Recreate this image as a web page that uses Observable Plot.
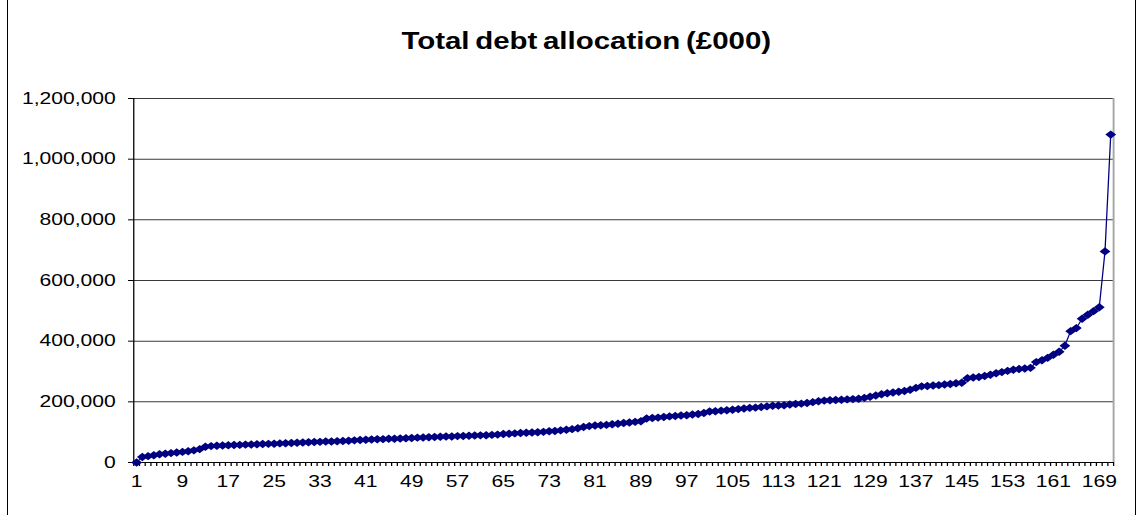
<!DOCTYPE html>
<html>
<head>
<meta charset="utf-8">
<script src="https://cdn.jsdelivr.net/npm/d3@7"></script>
<script src="https://cdn.jsdelivr.net/npm/@observablehq/plot@0.6"></script>
<style>
  html, body { margin: 0; padding: 0; background: #fff; }
  #frame { position: absolute; left: 0; top: 0; width: 1139px; height: 515px; overflow: hidden; background: #fff; }
  #border { position: absolute; left: 7px; top: -2px; width: 1129px; height: 519px; border: 1px solid #000; box-sizing: border-box; }
  #wrap { position: absolute; left: 0; top: 0; width: 890px; height: 515px; transform: scaleX(1.28); transform-origin: 0 0;
          font-family: "Liberation Sans", Arial, sans-serif; }
  #title { position: absolute; top: 30px; left: 458px; transform: translateX(-50%); white-space: nowrap;
           font-family: "Liberation Sans", Arial, sans-serif;
           font-size: 23px; line-height: 23px; font-weight: bold; color: #000; word-spacing: -2px; }
  #chart { position: absolute; left: 0; top: 75px; }
</style>
</head>
<body>
<div id="frame">
  <div id="border"></div>
  <div id="wrap">
    <div id="title">Total debt allocation (£000)</div>
    <div id="chart"></div>
  </div>
</div>
<script>
// ---- data ----
const chartTitle = "Total debt allocation (£000)";
const debtValues = [
  0, 18000, 21000, 24000, 27000, 29000, 31000, 33000, 35000, 37000,
  40000, 44000, 52000, 54000, 55000, 56000, 57000, 57500, 58000, 59000,
  59500, 60000, 61000, 61500, 62000, 63000, 63500, 64000, 65000, 66000,
  67000, 67500, 68000, 69000, 69500, 70000, 71000, 72000, 73000, 74000,
  75000, 76000, 76500, 77000, 78000, 78500, 79000, 80000, 81000, 82000,
  82500, 83000, 84000, 85000, 85500, 86000, 87000, 87500, 88000, 89000,
  89500, 90000, 91000, 92000, 94000, 95000, 96000, 97000, 98000, 99000,
  100000, 101000, 103000, 104000, 106000, 108000, 110000, 113000, 117000, 120000,
  122000, 123000, 124000, 126000, 128000, 130000, 132000, 134000, 136000, 145000,
  147000, 148000, 150000, 152000, 153000, 155000, 156000, 158000, 160000, 163000,
  168000, 169000, 171000, 172000, 174000, 176000, 178000, 180000, 181000, 183000,
  185000, 187000, 188000, 189000, 191000, 193000, 194000, 196000, 199000, 202000,
  204000, 205000, 206000, 207000, 208000, 209000, 210000, 213000, 217000, 221000,
  225000, 228000, 231000, 233000, 236000, 240000, 246000, 251000, 252000, 254000,
  255000, 257000, 259000, 261000, 263000, 278000, 280000, 282000, 285000, 289000,
  294000, 298000, 302000, 306000, 308000, 310000, 312000, 331000, 337000, 345000,
  355000, 365000, 385000, 433000, 443000, 474000, 487000, 499000, 512000, 696000,
  1081000
];
const categories = debtValues.map((v, i) => i + 1);
const xTickLabels = [1, 9, 17, 25, 33, 41, 49, 57, 65, 73, 81, 89, 97, 105, 113, 121, 129, 137, 145, 153, 161, 169];
const yTicks = [0, 200000, 400000, 600000, 800000, 1000000, 1200000];

// ---- chart ----
const n = categories.length;
const rows = categories.map((c, i) => ({cat: c, value: debtValues[i]}));
const boundaries = d3.range(n + 1).map(i => i + 0.5);
const font = '"Liberation Sans", Arial, sans-serif';

document.getElementById("title").textContent = chartTitle;

const chart = Plot.plot({
  width: 890,
  height: 440,
  marginLeft: 104,
  marginRight: 20.5,
  marginTop: 23,
  marginBottom: 53,
  style: {fontFamily: font, fontSize: "16.5px", color: "#000", background: "transparent", overflow: "visible"},
  x: {domain: [0.5, n + 0.5]},
  y: {domain: [0, 1200000]},
  marks: [
    Plot.gridY(yTicks, {stroke: "#3a3a3a", strokeOpacity: 1, strokeWidth: 1}),
    Plot.ruleX([n + 0.5], {stroke: "#a6a6a6", strokeWidth: 1.5}),
    Plot.axisY(yTicks, {tickFormat: d3.format(","), tickSize: 4, tickPadding: 10, label: null, fill: "#000"}),
    Plot.ruleY([0], {stroke: "#000"}),
    Plot.ruleX([0.5], {stroke: "#000"}),
    Plot.axisX(boundaries, {tickFormat: () => "", tickSize: 4, label: null}),
    Plot.axisX(xTickLabels, {tickSize: 0, tickPadding: 13, label: null, fill: "#000"}),
    Plot.line(rows, {x: "cat", y: "value", stroke: "#000080", strokeWidth: 1}),
    Plot.dot(rows, {x: "cat", y: "value", symbol: "diamond2", r: 3.8, fill: "#000080", stroke: "none"})
  ]
});
document.getElementById("chart").appendChild(chart);
</script>
</body>
</html>
